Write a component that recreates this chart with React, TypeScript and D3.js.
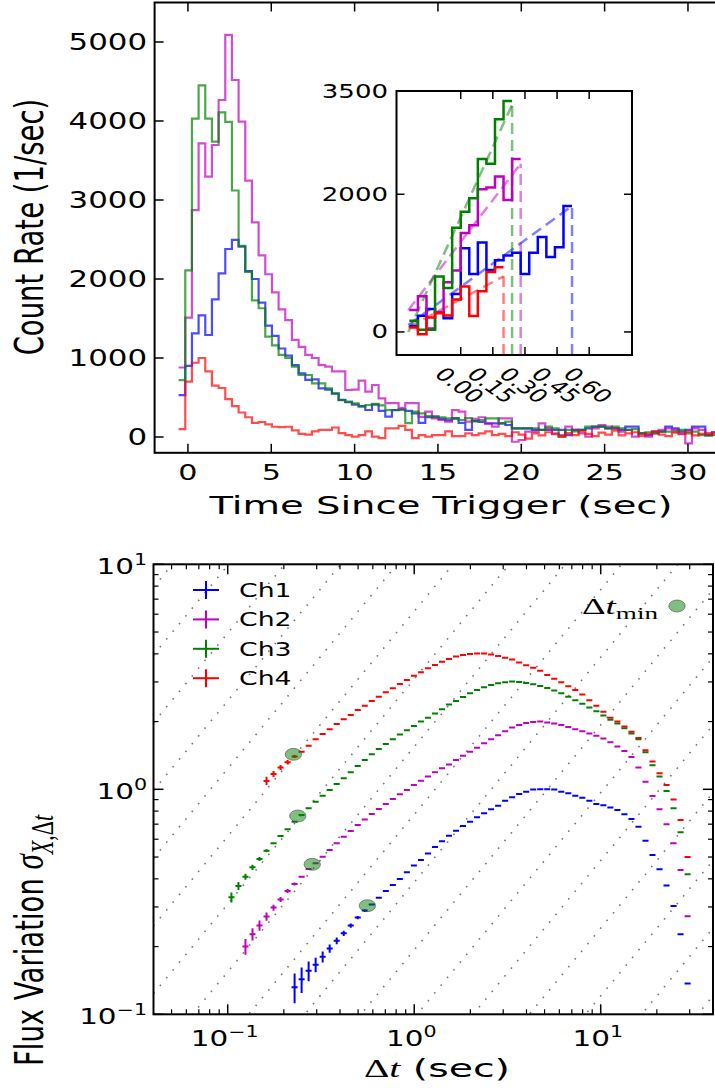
import React from 'react';
import * as d3 from 'd3';

// ================= TOP PANEL: light curves =================
const BIN_START = -0.56; // s, left edge of first bin
const BIN_WIDTH = 0.4; // s
const RATE_CH1 = [530, 900, 1312, 1540, 1291, 1742, 2072, 2380, 2494, 2410, 2100, 2000, 1700, 1410, 1280, 1120, 1030, 910, 806, 722, 730, 616, 600, 550, 470, 440, 410, 390, 342, 410, 330, 257, 340, 350, 330, 300, 180, 250, 260, 230, 210, 240, 180, 89, 200, 190, 173, 173, 173, 152, 110, 110, 110, 89, 89, 89, 89, 89, 25, 89, 89, 110, 131, 131, 110, 110, 89, 131, 131, 46, 25, 68, 68, 131, 110, 68, 89, 131, 131, 25, 60];
const RATE_CH2 = [880, 1510, 2873, 3717, 3295, 3696, 4266, 5089, 4519, 3992, 3245, 2717, 2300, 2060, 1830, 1616, 1480, 1230, 1140, 1040, 1000, 910, 890, 830, 830, 595, 600, 713, 574, 658, 490, 430, 430, 370, 430, 430, 255, 320, 235, 215, 195, 340, 320, 195, 230, 250, 170, 131, 236, 236, -60, -38, 68, 68, 173, 110, 46, 25, 131, 89, 46, 4, 110, 152, 131, 110, 68, 89, 4, 46, 4, 46, 89, 110, 89, 46, -80, 110, 89, 30, 60];
const RATE_CH3 = [720, 2110, 4030, 4450, 4030, 3740, 4110, 3990, 3120, 2420, 2090, 1730, 1630, 1270, 1160, 1040, 1000, 890, 785, 785, 680, 680, 616, 553, 468, 447, 426, 384, 405, 420, 400, 340, 342, 345, 175, 320, 300, 265, 250, 250, 235, 230, 215, 240, 200, 215, 236, 236, 173, 194, 110, 110, 110, 110, 89, 131, 110, 4, 89, 70, 89, 131, 131, 131, 110, 131, 110, 89, 100, 46, 60, 46, 68, 68, 68, 89, 46, 68, 25, 17, 30];
const RATE_CH4 = [100, 700, 940, 1000, 830, 650, 620, 480, 390, 310, 250, 180, 190, 160, 130, 125, 130, 85, 40, 30, 70, 90, 90, 120, 50, 25, 5, 25, 70, 5, -15, 110, 110, 140, 90, -15, 25, 5, 25, 25, 70, 10, 10, 45, 25, 45, 70, 25, 40, 10, 60, 30, -20, 45, 20, 60, 35, 5, 50, 25, 70, 40, 10, 55, 30, 80, 20, 45, 60, 15, 40, 70, 30, 10, 55, 35, 65, 20, 40, 50, 30];
const TOP_X_TICKS = [0, 5, 10, 15, 20, 25, 30];
const TOP_Y_TICKS = [0, 1000, 2000, 3000, 4000, 5000];

// ================= INSET =================
const INSET_BIN_START = -0.24;
const INSET_BIN_WIDTH = 0.04;
const INSET_CH1 = [88, 234, 332, 283, 200, 550, 1214, 840, 1300, 900, 1040, 1110, 1150, 840, 1150, 1380, 1090, 1230, 1830];
const INSET_CH2 = [317, 517, 49, 290, 720, 893, 1439, 1551, 2073, 2098, 2259, 1917, 2512];
const INSET_CH3 = [161, 30, 30, 805, 640, 1512, 1746, 1941, 2512, 2444, 3088, 3356];
const INSET_CH4 = [65, -35, 210, 270, 240, 470, 660, 230, 590, 870, 940];
const INSET_FIT_START = [[-0.245, 102], [-0.245, 316], [-0.245, 0], [-0.245, 68]];
const INSET_FIT_END = [[0.52, 1829], [0.28, 2442], [0.24, 3300], [0.2, 808]];
const INSET_X_TICKS = [0, 0.15, 0.3, 0.45, 0.6];
const INSET_X_LABELS = ['0.00', '0.15', '0.30', '0.45', '0.60'];
const INSET_Y_TICKS = [0, 2000, 3500];

// ================= BOTTOM PANEL: Haar structure function =================
const DT_START = 0.1047; // s, first lag of the grid
const DT_PER_OCTAVE = 8; // lags per factor of two
const SIG_START_INDEX = [9, 2, 0, 5];
const SIG_CH1 = [0.132, 0.143, 0.156, 0.166, 0.180, 0.196, 0.212, 0.229, 0.248, 0.269,
  0.289, 0.308, 0.330, 0.353, 0.376, 0.399, 0.428, 0.458, 0.485, 0.519,
  0.554, 0.587, 0.622, 0.655, 0.687, 0.718, 0.751, 0.782, 0.815, 0.846,
  0.890, 0.922, 0.953, 0.976, 0.997, 1.00, 1.00, 0.997, 0.976, 0.960,
  0.937, 0.918, 0.890, 0.861, 0.850, 0.830, 0.810, 0.774, 0.738, 0.682,
  0.591, 0.511, 0.441, 0.374, 0.303, 0.227, 0.137];
const SIG_CH2 = [0.200, 0.227, 0.248, 0.272, 0.298, 0.324, 0.353, 0.379, 0.409, 0.442,
  0.469, 0.501, 0.537, 0.575, 0.616, 0.653, 0.694, 0.735, 0.777, 0.817,
  0.861, 0.906, 0.950, 0.993, 1.045, 1.092, 1.14, 1.19, 1.24, 1.29,
  1.35, 1.41, 1.47, 1.53, 1.60, 1.67, 1.74, 1.81, 1.88, 1.93,
  1.97, 1.99, 2.00, 1.98, 1.96, 1.93, 1.89, 1.85, 1.81, 1.77,
  1.73, 1.68, 1.62, 1.55, 1.48, 1.39, 1.25, 1.08, 0.934, 0.815,
  0.699, 0.575, 0.438, 0.273];
const SIG_CH3 = [0.331, 0.372, 0.409, 0.450, 0.490, 0.533, 0.575, 0.620, 0.664, 0.718,
  0.769, 0.823, 0.881, 0.937, 0.993, 1.056, 1.12, 1.19, 1.27, 1.35,
  1.43, 1.51, 1.59, 1.67, 1.75, 1.83, 1.91, 2.00, 2.08, 2.17,
  2.27, 2.38, 2.47, 2.57, 2.67, 2.76, 2.84, 2.91, 2.96, 2.99,
  3.01, 3.00, 2.97, 2.93, 2.88, 2.82, 2.75, 2.67, 2.58, 2.49,
  2.40, 2.31, 2.22, 2.13, 2.04, 1.96, 1.87, 1.77, 1.67, 1.46,
  1.28, 1.14, 0.983, 0.824, 0.644, 0.419];
const SIG_CH4 = [1.09, 1.17, 1.25, 1.32, 1.40, 1.47, 1.56, 1.67, 1.76, 1.85,
  1.95, 2.05, 2.14, 2.25, 2.35, 2.47, 2.58, 2.70, 2.81, 2.94,
  3.06, 3.20, 3.31, 3.45, 3.57, 3.69, 3.79, 3.89, 3.95, 3.99,
  4.01, 4.01, 3.97, 3.91, 3.84, 3.77, 3.66, 3.56, 3.47, 3.36,
  3.22, 3.10, 2.99, 2.87, 2.76, 2.64, 2.49, 2.35, 2.21, 2.08,
  2.00, 1.90, 1.80, 1.69, 1.49, 1.33, 1.18, 1.045, 0.90, 0.73,
  0.50];
const ERR_CH1 = [0.020, 0.0186, 0.0157, 0.0123, 0.0103, 0.0082, 0.0072, 0.006, 0.0053, 0.0046, 0.004];
const ERR_CH2 = [0.016, 0.0143, 0.0129, 0.0114, 0.0092, 0.0084, 0.0074, 0.0058];
const ERR_CH3 = [0.0172, 0.0156, 0.0127, 0.0117, 0.0103, 0.008];
const ERR_CH4 = [0.046, 0.036, 0.032, 0.028, 0.022];
const DTMIN_X = [0.561, 0.284, 0.2375, 0.225];
const DTMIN_Y = [0.304, 0.464, 0.761, 1.43];
const GUIDE_NORM = 3.09; // sigma = norm * 2^k * dt, slope-1 guide lines
const CHANNELS = ['Ch1', 'Ch2', 'Ch3', 'Ch4'];

const COLORS = ['#0000ff', '#bf00bf', '#008000', '#ff0000'];
const SANS = "'DejaVu Sans', Verdana, sans-serif";
const SERIF = "'Liberation Serif', 'DejaVu Serif', serif";
const SX = 1.37;

type P = [number, number];

function T(props: any) {
  const { x, y, size, anchor = 'start', rot = 0, family = SANS, children, baseline, italic, sx = SX } = props;
  const tr = `translate(${x},${y}) scale(${sx},1)` + (rot ? ` rotate(${rot})` : '');
  return (
    <text transform={tr} fontSize={size} fontFamily={family} textAnchor={anchor}
      dominantBaseline={baseline} fontStyle={italic ? 'italic' : undefined} fill="#000">
      {children}
    </text>
  );
}

function Pow({ x, y, exp, anchor = 'middle', size }: any) {
  return (
    <T x={x} y={y} size={size} anchor={anchor}>
      <tspan>10</tspan>
      <tspan dy={-0.42 * size} fontSize={0.7 * size}>{exp}</tspan>
    </T>
  );
}

function stepPoints(start: number, width: number, vals: number[]): P[] {
  const pts: P[] = vals.map((v, k) => [start + k * width, v] as P);
  pts.push([start + vals.length * width, vals[vals.length - 1]]);
  return pts;
}

export default function App() {
  // ---------- scales ----------
  const TOP = { left: 154.6, right: 721.3, top: 2.5, bottom: 452.8 };
  const xTop = d3.scaleLinear().domain([-2, 32]).range([TOP.left, TOP.right]);
  const yTop = d3.scaleLinear().domain([-200, 5500]).range([TOP.bottom, TOP.top]);

  const INS = { left: 396.5, right: 632, top: 91, bottom: 355 };
  const xIn = d3.scaleLinear().domain([-0.3, 0.8]).range([INS.left, INS.right]);
  const yIn = d3.scaleLinear().domain([-335, 3500]).range([INS.bottom, INS.top]);

  const BOT = { left: 153.5, right: 713, top: 564.3, bottom: 1014.3 };
  const xB = d3.scaleLog().domain([0.04, 40]).range([BOT.left, BOT.right]);
  const yB = d3.scaleLog().domain([0.1, 10]).range([BOT.bottom, BOT.top]);

  const rates = [RATE_CH1, RATE_CH2, RATE_CH3, RATE_CH4];
  const insets = [INSET_CH1, INSET_CH2, INSET_CH3, INSET_CH4];
  const sigs = [SIG_CH1, SIG_CH2, SIG_CH3, SIG_CH4];
  const errs = [ERR_CH1, ERR_CH2, ERR_CH3, ERR_CH4];

  const lineTop = d3.line<P>().x(d => xTop(d[0])).y(d => yTop(d[1])).curve(d3.curveStepAfter);
  const lineIn = d3.line<P>().x(d => xIn(d[0])).y(d => yIn(d[1])).curve(d3.curveStepAfter);

  // ---------- bottom: guide lines ----------
  const guides: number[] = [];
  for (let k = -12; k <= 8; k++) guides.push(GUIDE_NORM * Math.pow(2, k));

  // minor ticks for log axes
  const minorX: number[] = [];
  const minorY: number[] = [];
  for (const dec of [0.01, 0.1, 1, 10]) {
    for (let m = 2; m <= 9; m++) {
      const v = m * dec;
      if (v > 0.04 && v < 40) minorX.push(v);
      if (v > 0.1 && v < 10) minorY.push(v);
    }
  }

  const TL = 9; // major tick length
  const xf = 1.038; // half-width of lag bin (multiplicative)

  return (
    <div style={{ position: 'absolute', left: 0, top: 0 }}>
      <svg width={715} height={1091} viewBox="0 0 715 1091" style={{ display: 'block', background: '#fff' }}>
        <defs>
          <clipPath id="clipTop"><rect x={TOP.left} y={TOP.top} width={TOP.right - TOP.left} height={TOP.bottom - TOP.top} /></clipPath>
          <clipPath id="clipIn"><rect x={INS.left} y={INS.top} width={INS.right - INS.left} height={INS.bottom - INS.top} /></clipPath>
          <clipPath id="clipBot"><rect x={BOT.left} y={BOT.top} width={BOT.right - BOT.left} height={BOT.bottom - BOT.top} /></clipPath>
        </defs>
        <rect x={0} y={0} width={715} height={1091} fill="#fff" />

        {/* ================= TOP PANEL ================= */}
        <g clipPath="url(#clipTop)">
          {rates.map((vals, c) => (
            <path key={c} d={lineTop(stepPoints(BIN_START, BIN_WIDTH, vals)) || ''}
              fill="none" stroke={COLORS[c]} strokeOpacity={0.7} strokeWidth={2.2} />
          ))}
        </g>
        {/* frame */}
        <rect x={TOP.left} y={TOP.top} width={TOP.right - TOP.left} height={TOP.bottom - TOP.top}
          fill="none" stroke="#000" strokeWidth={2} />
        {TOP_X_TICKS.map(v => (
          <g key={'tx' + v}>
            <line x1={xTop(v)} x2={xTop(v)} y1={TOP.bottom} y2={TOP.bottom - TL} stroke="#000" strokeWidth={1.5} />
            <line x1={xTop(v)} x2={xTop(v)} y1={TOP.top} y2={TOP.top + TL} stroke="#000" strokeWidth={1.5} />
            <T x={xTop(v)} y={480} size={22} anchor="middle">{String(v)}</T>
          </g>
        ))}
        {TOP_Y_TICKS.map(v => (
          <g key={'ty' + v}>
            <line x1={TOP.left} x2={TOP.left + TL} y1={yTop(v)} y2={yTop(v)} stroke="#000" strokeWidth={1.5} />
            <T x={147} y={yTop(v) + 8} size={22.5} anchor="end">{String(v)}</T>
          </g>
        ))}
        <text x={441} y={514} fontSize={25} fontFamily={SANS} textAnchor="middle"
          textLength={463} lengthAdjust="spacingAndGlyphs">Time Since Trigger (sec)</text>
        <T x={43} y={227} size={27.5} anchor="middle" rot={-90} sx={1.4}>Count Rate (1/sec)</T>

        {/* ================= INSET ================= */}
        <rect x={INS.left} y={INS.top} width={INS.right - INS.left} height={INS.bottom - INS.top} fill="#fff" />
        <g clipPath="url(#clipIn)">
          {insets.map((vals, c) => {
            const s = INSET_FIT_START[c];
            const e = INSET_FIT_END[c];
            return (
              <g key={'fit' + c} stroke={COLORS[c]} strokeOpacity={0.5} strokeWidth={2.5} strokeDasharray="11 6" fill="none">
                <line x1={xIn(s[0])} y1={yIn(s[1])} x2={xIn(e[0])} y2={yIn(e[1])} />
                <line x1={xIn(e[0])} y1={yIn(-335)} x2={xIn(e[0])} y2={yIn(e[1])} />
              </g>
            );
          })}
          {insets.map((vals, c) => (
            <path key={'in' + c} d={lineIn(stepPoints(INSET_BIN_START, INSET_BIN_WIDTH, vals)) || ''}
              fill="none" stroke={COLORS[c]} strokeWidth={2.5} />
          ))}
        </g>
        <rect x={INS.left} y={INS.top} width={INS.right - INS.left} height={INS.bottom - INS.top}
          fill="none" stroke="#000" strokeWidth={2} />
        {INSET_X_TICKS.map((v, i) => (
          <g key={'ix' + i}>
            <line x1={xIn(v)} x2={xIn(v)} y1={INS.bottom} y2={INS.bottom - 8} stroke="#000" strokeWidth={1.5} />
            <line x1={xIn(v)} x2={xIn(v)} y1={INS.top} y2={INS.top + 8} stroke="#000" strokeWidth={1.5} />
            <T x={xIn(v) - 1} y={385} size={18.5} anchor="middle" rot={45} baseline="central">{INSET_X_LABELS[i]}</T>
          </g>
        ))}
        {INSET_Y_TICKS.map(v => (
          <g key={'iy' + v}>
            <line x1={INS.left} x2={INS.left + 8} y1={yIn(v)} y2={yIn(v)} stroke="#000" strokeWidth={1.5} />
            <line x1={INS.right} x2={INS.right - 8} y1={yIn(v)} y2={yIn(v)} stroke="#000" strokeWidth={1.5} />
            <T x={388} y={yIn(v) + 6.5} size={19} anchor="end">{String(v)}</T>
          </g>
        ))}

        {/* ================= BOTTOM PANEL ================= */}
        <g clipPath="url(#clipBot)">
          {guides.map((c, i) => (
            <line key={'g' + i} x1={xB(0.04)} y1={yB(c * 0.04)} x2={xB(40)} y2={yB(c * 40)}
              stroke="#777" strokeWidth={1.6} strokeDasharray="1.6 8.4" />
          ))}
          {sigs.map((vals, c) => (
            <g key={'s' + c} stroke={COLORS[c]} strokeWidth={2}>
              {vals.map((s, i) => {
                const j = SIG_START_INDEX[c] + i;
                const dt = DT_START * Math.pow(2, j / DT_PER_OCTAVE);
                const e = errs[c][i] || 0;
                return (
                  <g key={i}>
                    <line x1={xB(dt / xf)} x2={xB(dt * xf)} y1={yB(s)} y2={yB(s)} />
                    {e > 0 && <line x1={xB(dt)} x2={xB(dt)} y1={yB(s - e)} y2={yB(s + e)} />}
                  </g>
                );
              })}
            </g>
          ))}
          {DTMIN_X.map((dt, c) => (
            <ellipse key={'m' + c} cx={xB(dt)} cy={yB(DTMIN_Y[c])} rx={8.2} ry={6}
              fill="#008000" fillOpacity={0.5} stroke="#333" strokeOpacity={0.5} strokeWidth={1} />
          ))}
        </g>
        <rect x={BOT.left} y={BOT.top} width={BOT.right - BOT.left} height={BOT.bottom - BOT.top}
          fill="none" stroke="#000" strokeWidth={2} />
        {[0.1, 1, 10].map((v, i) => (
          <g key={'bx' + v}>
            <line x1={xB(v)} x2={xB(v)} y1={BOT.bottom} y2={BOT.bottom - 10} stroke="#000" strokeWidth={1.5} />
            <line x1={xB(v)} x2={xB(v)} y1={BOT.top} y2={BOT.top + 10} stroke="#000" strokeWidth={1.5} />
            <Pow x={xB(v) - 3} y={1046} size={21.5} exp={['\u22121', '0', '1'][i]} />
          </g>
        ))}
        {minorX.map(v => (
          <g key={'mx' + v}>
            <line x1={xB(v)} x2={xB(v)} y1={BOT.bottom} y2={BOT.bottom - 5} stroke="#000" strokeWidth={1.2} />
            <line x1={xB(v)} x2={xB(v)} y1={BOT.top} y2={BOT.top + 5} stroke="#000" strokeWidth={1.2} />
          </g>
        ))}
        {[0.1, 1, 10].map((v, i) => (
          <g key={'by' + v}>
            <line x1={BOT.left} x2={BOT.left + 10} y1={yB(v)} y2={yB(v)} stroke="#000" strokeWidth={1.5} />
            <line x1={BOT.right} x2={BOT.right - 10} y1={yB(v)} y2={yB(v)} stroke="#000" strokeWidth={1.5} />
            <Pow x={147} y={yB(v) + 10} size={21.5} anchor="end" exp={['\u22121', '0', '1'][i]} />
          </g>
        ))}
        {minorY.map(v => (
          <g key={'my' + v}>
            <line x1={BOT.left} x2={BOT.left + 5} y1={yB(v)} y2={yB(v)} stroke="#000" strokeWidth={1.2} />
            <line x1={BOT.right} x2={BOT.right - 5} y1={yB(v)} y2={yB(v)} stroke="#000" strokeWidth={1.2} />
          </g>
        ))}
        {/* legend */}
        {CHANNELS.map((name, c) => {
          const ly = 590 + 29.4 * c;
          return (
            <g key={'lg' + c}>
              <line x1={193} x2={219} y1={ly} y2={ly} stroke={COLORS[c]} strokeWidth={2} />
              <line x1={206} x2={206} y1={ly - 9} y2={ly + 9} stroke={COLORS[c]} strokeWidth={2} />
              <T x={239} y={ly + 7} size={19.5}>{name}</T>
            </g>
          );
        })}
        <text x={582} y={614} fontSize={23} fontFamily={SERIF} textLength={76} lengthAdjust="spacingAndGlyphs">
          <tspan>{'\u0394'}</tspan><tspan fontStyle="italic">t</tspan>
          <tspan dy={5} fontSize={17}>min</tspan>
        </text>
        <ellipse cx={677} cy={606} rx={8.2} ry={6} fill="#008000" fillOpacity={0.5}
          stroke="#333" strokeOpacity={0.5} strokeWidth={1} />
        {/* axis labels */}
        <text x={437} y={1077} fontSize={25} textAnchor="middle" textLength={146} lengthAdjust="spacingAndGlyphs">
          <tspan fontFamily={SERIF}>{'\u0394'}</tspan>
          <tspan fontFamily={SERIF} fontStyle="italic">t</tspan>
          <tspan fontFamily={SANS}> (sec)</tspan>
        </text>
        <T x={43} y={1066} size={27.5} anchor="start" rot={-90} sx={1.4}>
          <tspan fontFamily={SANS}>Flux Variation </tspan>
          <tspan fontFamily={SERIF} fontStyle="italic" fontSize={31}>{'\u03c3'}</tspan>
          <tspan fontFamily={SERIF} fontStyle="italic" fontSize={22} dy={7}>X</tspan>
          <tspan fontFamily={SERIF} fontSize={22}>,{'\u0394'}</tspan>
          <tspan fontFamily={SERIF} fontStyle="italic" fontSize={22}>t</tspan>
        </T>
      </svg>
    </div>
  );
}
